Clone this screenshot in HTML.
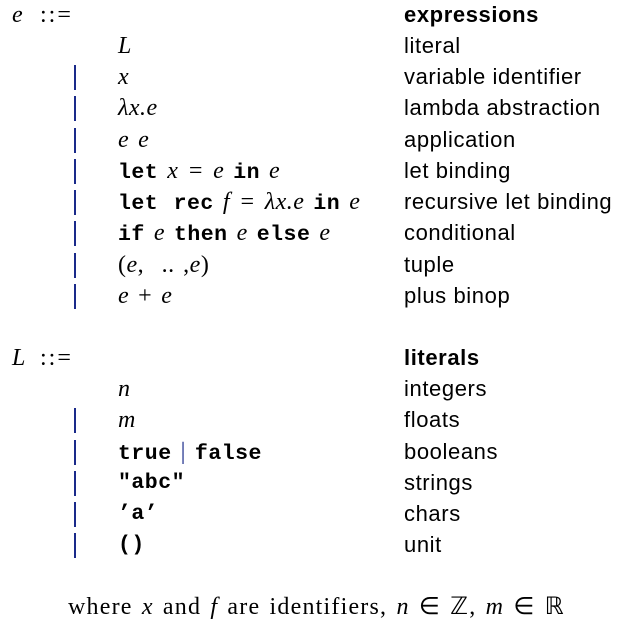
<!DOCTYPE html>
<html><head><style>
body{margin:0;width:631px;height:635px;background:#fff;position:relative;overflow:hidden;color:#000}
.r{position:absolute;height:30px;line-height:30px;white-space:nowrap}
.m{font-family:"Liberation Serif",serif;font-size:24px;letter-spacing:0.5px;word-spacing:2px}
.i{font-style:italic}
.t{font-family:"Liberation Mono",monospace;font-size:21.5px;font-weight:bold;font-style:normal;letter-spacing:0.5px}
.s{font-family:"Liberation Sans",sans-serif;font-size:22px;letter-spacing:0.6px}
.b{font-weight:bold}
.bar{position:absolute;left:74px;width:2px;height:25px;background:#1a2a8a}
.sp{display:inline-block;width:9px}
</style></head><body>
<div class="r m i" style="left:12px;top:0">e</div>
<div class="r m" style="left:40px;top:0;letter-spacing:2px">::=</div>
<div class="r s b" style="left:404px;top:0">expressions</div>

<div class="r m i" style="left:118px;top:31px">L</div><div class="r s" style="left:404px;top:31px">literal</div>
<div class="bar" style="top:65px"></div><div class="r m i" style="left:118px;top:62px">x</div><div class="r s" style="left:404px;top:62px">variable identifier</div>
<div class="bar" style="top:96px"></div><div class="r m i" style="left:118px;top:93px">λx.e</div><div class="r s" style="left:404px;top:93px">lambda abstraction</div>
<div class="bar" style="top:128px"></div><div class="r m i" style="left:118px;top:125px">e<span class="sp"></span>e</div><div class="r s" style="left:404px;top:125px">application</div>
<div class="bar" style="top:159px"></div><div class="r m i" style="left:118px;top:156px"><span class="t">let</span><span class="sp"></span>x<span class="sp"></span>=<span class="sp"></span>e<span class="sp"></span><span class="t">in</span><span class="sp"></span>e</div><div class="r s" style="left:404px;top:156px">let binding</div>
<div class="bar" style="top:190px"></div><div class="r m i" style="left:118px;top:187px"><span class="t">let rec</span><span class="sp"></span>f<span class="sp"></span>=<span class="sp"></span>λx.e<span class="sp"></span><span class="t">in</span><span class="sp"></span>e</div><div class="r s" style="left:404px;top:187px">recursive let binding</div>
<div class="bar" style="top:221px"></div><div class="r m i" style="left:118px;top:218px"><span class="t">if</span><span class="sp"></span>e<span class="sp"></span><span class="t">then</span><span class="sp"></span>e<span class="sp"></span><span class="t">else</span><span class="sp"></span>e</div><div class="r s" style="left:404px;top:218px">conditional</div>
<div class="bar" style="top:253px"></div><div class="r m" style="left:118px;top:250px">(<i>e</i>,<span class="sp"></span>&nbsp;..&nbsp;,<i>e</i>)</div><div class="r s" style="left:404px;top:250px">tuple</div>
<div class="bar" style="top:284px"></div><div class="r m" style="left:118px;top:281px"><i>e</i><span class="sp"></span>+<span class="sp"></span><i>e</i></div><div class="r s" style="left:404px;top:281px">plus binop</div>

<div class="r m i" style="left:12px;top:343px">L</div>
<div class="r m" style="left:40px;top:343px;letter-spacing:2px">::=</div>
<div class="r s b" style="left:404px;top:343px">literals</div>
<div class="r m i" style="left:118px;top:374px">n</div><div class="r s" style="left:404px;top:374px">integers</div>
<div class="bar" style="top:408px"></div><div class="r m i" style="left:118px;top:405px">m</div><div class="r s" style="left:404px;top:405px">floats</div>
<div class="bar" style="top:440px"></div><div class="r m" style="left:118px;top:437px"><span class="t">true</span><span class="sp"></span><span style="color:#1a2a8a">|</span><span class="sp"></span><span class="t">false</span></div><div class="r s" style="left:404px;top:437px">booleans</div>
<div class="bar" style="top:471px"></div><div class="r t" style="left:118px;top:468px">"abc"</div><div class="r s" style="left:404px;top:468px">strings</div>
<div class="bar" style="top:502px"></div><div class="r t" style="left:118px;top:499px">’a’</div><div class="r s" style="left:404px;top:499px">chars</div>
<div class="bar" style="top:533px"></div><div class="r t" style="left:118px;top:530px">()</div><div class="r s" style="left:404px;top:530px">unit</div>

<div class="r m" style="left:68px;top:592px;letter-spacing:1.2px;word-spacing:2px">where <i>x</i> and <i>f</i> are identifiers, <i>n</i> ∈ ℤ, <i>m</i> ∈ ℝ</div>
</body></html>
